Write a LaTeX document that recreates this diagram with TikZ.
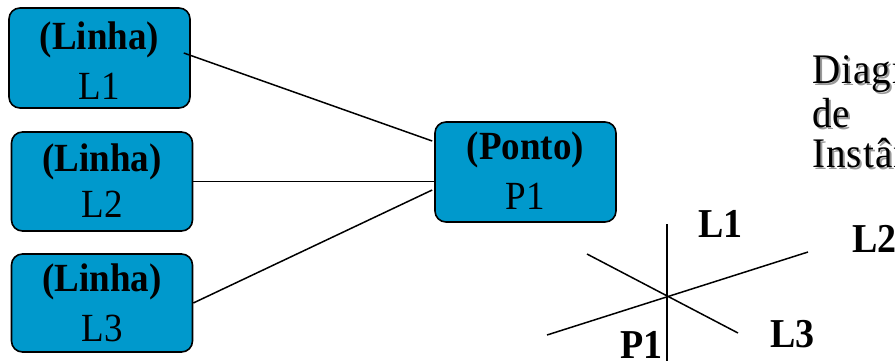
\documentclass[tikz,border=0pt]{standalone}
\usepackage{graphicx}
\usepackage{fontspec}
\setmainfont{Liberation Serif}
\definecolor{boxblue}{RGB}{0,153,204}
% slightly taller glyphs, as in the slide's text rendering
\newcommand\tallglyphs[1]{\scalebox{1}[1.08]{#1}}
\begin{document}
\begin{tikzpicture}[x=1pt,y=-1pt,
  objbox/.style={draw=black, line width=1.6pt, fill=boxblue, rounded corners=11pt,
    minimum width=181pt, minimum height=100pt, inner sep=0pt},
  boxtitle/.style={font=\fontsize{37}{40}\selectfont\bfseries, anchor=base, inner sep=0pt},
  boxname/.style={font=\fontsize{37}{40}\selectfont, anchor=base, inner sep=0pt},
  link/.style={line width=1.5pt},
  geo/.style={line width=1.5pt},
  geolabel/.style={font=\fontsize{38}{40}\selectfont\bfseries, anchor=base west, inner sep=0pt},
  caption/.style={font=\fontsize{39}{40}\selectfont\addfontfeature{LetterSpace=3},
    anchor=base west, inner sep=0pt},
  captionshadow/.style={caption, text=black!40},
]
\clip (0,0) rectangle (895,360);

% object boxes
\node[objbox] (b1) at (99.5,58) {};
\node[objbox, minimum height=99pt] (b2) at (102,181.5) {};
\node[objbox, minimum height=98pt] (b3) at (102,303) {};
\node[objbox] (p1) at (525.5,172) {};

\node[boxtitle, yshift=-42pt] (b1t) at (b1.north) {\tallglyphs{(Linha)}};
\node[boxname,  yshift=-92pt] (b1n) at (b1.north) {\tallglyphs{L1}};
\node[boxtitle, yshift=-40pt] (b2t) at (b2.north) {\tallglyphs{(Linha)}};
\node[boxname,  yshift=-86pt] (b2n) at (b2.north) {\tallglyphs{L2}};
\node[boxtitle, yshift=-38pt] (b3t) at (b3.north) {\tallglyphs{(Linha)}};
\node[boxname,  yshift=-88pt] (b3n) at (b3.north) {\tallglyphs{L3}};
\node[boxtitle, yshift=-38pt] (p1t) at (p1.north) {\tallglyphs{(Ponto)}};
\node[boxname,  yshift=-88pt] (p1n) at (p1.north) {\tallglyphs{P1}};

% links between the lines and the point
\draw[link] ([shift={(-7,-5)}]b1.east) -- ([shift={(-2,-31)}]p1.west);
\draw[link] (b2.east) -- (b2.east -| p1.west);
\draw[link] (b3.east) -- ([shift={(-2,18)}]p1.west);

% caption with drop shadow
\node[captionshadow] (c1s) at (814,85) {\tallglyphs{Diagrama}};
\node[captionshadow] (c2s) at (814,129) {\tallglyphs{de}};
\node[captionshadow] (c3s) at (814,169) {\tallglyphs{Instâncias}};
\node[caption] (c1) at (812,83) {\tallglyphs{Diagrama}};
\node[caption] (c2) at (812,127) {\tallglyphs{de}};
\node[caption] (c3) at (812,167) {\tallglyphs{Instâncias}};

% geometric sketch: three lines through one point
\coordinate (o) at (667,296);
\coordinate (v1) at (667,224);
\coordinate (v2) at (667,362);
\coordinate (a1) at (547,335);
\coordinate (a2) at (808,252);
\coordinate (d1) at (587,254);
\coordinate (d2) at (738,333);
\draw[geo] (v1) -- (v2);
\draw[geo] (a1) -- (a2);
\draw[geo] (d1) -- (d2);

\node[geolabel] (gl1) at (698,237) {\tallglyphs{L1}};
\node[geolabel] (gl2) at (852,252) {\tallglyphs{L2}};
\node[geolabel] (gl3) at (770,347) {\tallglyphs{L3}};
\node[geolabel] (gp1) at (620,358) {\tallglyphs{P1}};
\end{tikzpicture}
\end{document}
